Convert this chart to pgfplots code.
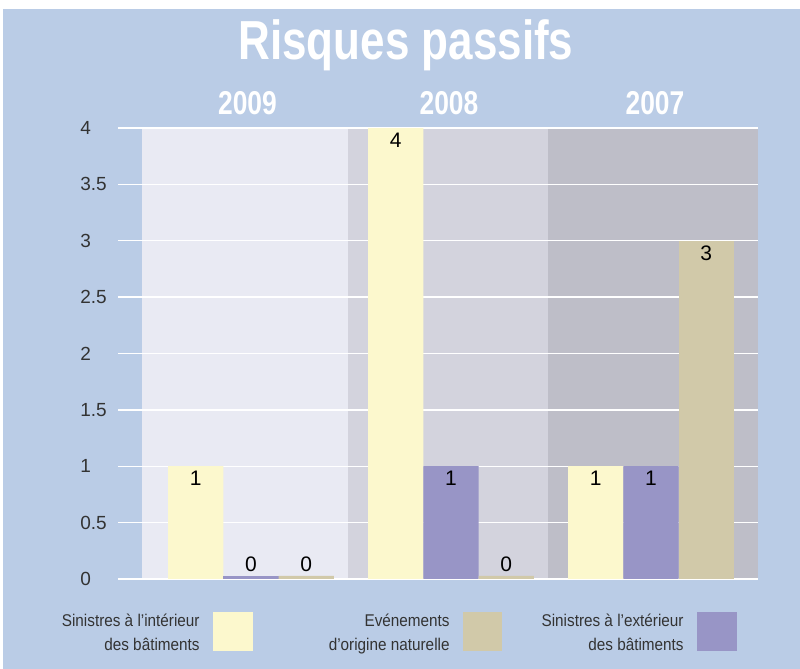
\documentclass[border=0pt]{standalone}
\usepackage{fontspec}
\setmainfont{Liberation Sans}
\newfontfamily\condbold[FakeStretch=0.8]{Liberation Sans Bold}
\newfontfamily\condlight[FakeStretch=0.9]{Liberation Sans}
\usepackage{pgfplots}
\pgfplotsset{compat=1.18}
\definecolor{bgblue}{HTML}{BACCE6}
\definecolor{panelA}{HTML}{E9EAF3}
\definecolor{panelB}{HTML}{D3D3DD}
\definecolor{panelC}{HTML}{BEBEC8}
\definecolor{yel}{HTML}{FCF8CD}
\definecolor{pur}{HTML}{9895C6}
\definecolor{tan}{HTML}{D1C9A9}
\definecolor{labgray}{HTML}{333333}
\pgfplotsset{
  mybar/.style={ybar, bar width=55.3, bar shift=0pt, fill=#1, draw=none},
  inlab/.style={nodes near coords,
    every node near coord/.append style={anchor=north, yshift=1pt,
      font=\fontsize{10.5}{11}\selectfont, text=black}},
  zerolab/.style={nodes near coords={0},
    every node near coord/.append style={anchor=south, yshift=-1.5pt,
      font=\fontsize{10.5}{11}\selectfont, text=black}},
}
\begin{document}
\begin{tikzpicture}
\begin{scope}[x=0.5pt,y=-0.5pt,shift={(-59pt,289.5pt)}]
  \fill[white] (0,0) rectangle (800,669);
  \fill[bgblue] (3,9) rectangle (800,669);
  \fill[panelA] (142,128) rectangle (348,579);
  \fill[panelB] (348,128) rectangle (548,579);
  \fill[panelC] (548,128) rectangle (758,579);
\end{scope}
\begin{axis}[
  scale only axis, width=320pt, height=225.5pt,
  xmin=118, xmax=758, ymin=0, ymax=4,
  ytick={0,0.5,1,1.5,2,2.5,3,3.5,4},
  xtick=\empty,
  ymajorgrids, grid style={white, line width=0.7pt},
  axis line style={draw=none}, major tick length=0pt,
  yticklabel style={anchor=west, xshift=-19pt, inner sep=0pt,
     font=\fontsize{9.5}{10}\selectfont, text=labgray},
  /pgf/number format/assume math mode=true,
]
\addplot[mybar=yel, inlab] coordinates {(195.7,1) (395.7,4) (595.7,1)};
\addplot[mybar=pur, inlab] coordinates {(451,1) (651,1)};
\addplot[mybar=tan, inlab] coordinates {(706.3,3)};
% zero-valued bars (drawn as thin strips)
\addplot[mybar=pur, zerolab] coordinates {(251,0.027)};
\addplot[mybar=tan, zerolab] coordinates {(306.3,0.027) (506.3,0.027)};
\end{axis}
\begin{scope}[x=0.5pt,y=-0.5pt,shift={(-59pt,289.5pt)}]
  \node[text=white, font=\condbold\fontsize{27.5}{28}\selectfont, anchor=base, inner sep=0pt] at (406,60) {Risques passifs};
  \foreach \x/\yr in {247.5/2009, 449/2008, 655/2007}
    \node[text=white, font=\condbold\fontsize{16.5}{16.5}\selectfont, anchor=base, inner sep=0pt] at (\x,115) {\yr};
  \begin{scope}[every node/.style={anchor=base east, inner sep=0pt, text=labgray, font=\condlight\fontsize{8.5}{10}\selectfont}]
    \node at (200,627) {Sinistres à l’intérieur};
    \node at (200,651) {des bâtiments};
    \node at (450,627) {Evénements};
    \node at (450,651) {d’origine naturelle};
    \node at (684,627) {Sinistres à l’extérieur};
    \node at (684,651) {des bâtiments};
  \end{scope}
  \fill[yel] (213,612) rectangle (253,651);
  \fill[tan] (463,612) rectangle (502,651);
  \fill[pur] (697,612) rectangle (737,651);
\end{scope}
\end{tikzpicture}
\end{document}
